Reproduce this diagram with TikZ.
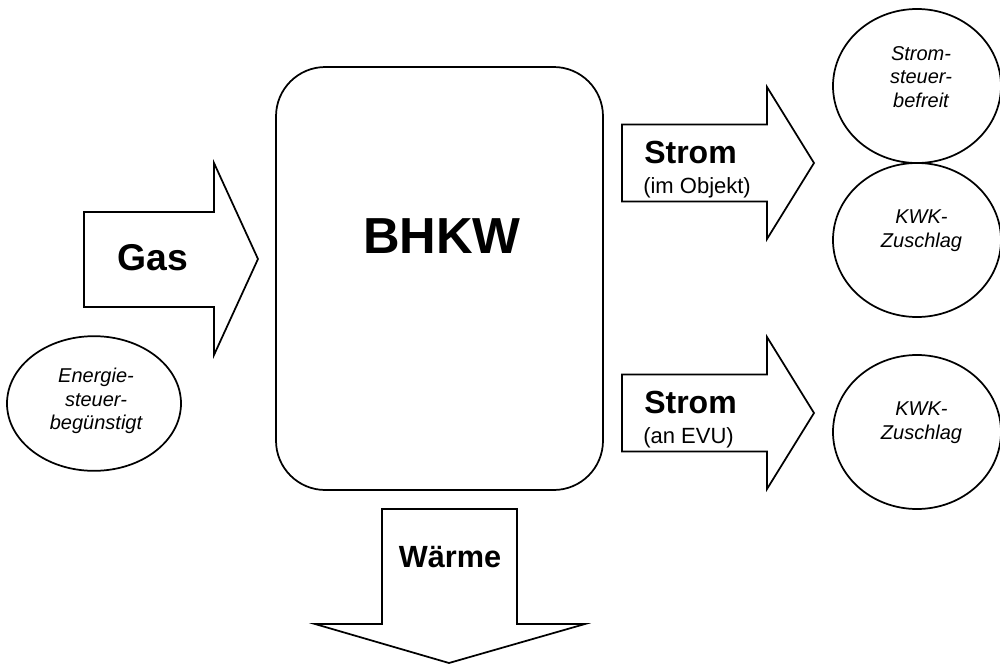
\documentclass[tikz,border=0pt]{standalone}
\usepackage{fontspec}
\setmainfont{Liberation Sans}
\usetikzlibrary{shapes.geometric}

\tikzset{
  outline/.style={draw, line width=1.3pt, line join=miter},
  oval/.style={outline, ellipse, inner sep=0pt},
  heading/.style={font=\bfseries\fontsize{#1}{#1}\selectfont, anchor=base, inner sep=0pt},
  subline/.style={font=\fontsize{16.5}{18}\selectfont, anchor=base west, inner sep=0pt},
  note/.style={font=\itshape\fontsize{15}{17.6}\selectfont, align=center, inner sep=0pt}
}

\begin{document}
\begin{tikzpicture}[x=0.75pt, y=-0.75pt]
    \useasboundingbox (0,0) rectangle (1000,664);
    % BHKW block
    \node[outline, rounded corners=37pt, minimum width=245.25pt,
          minimum height=317.25pt, inner sep=0pt] (bhkw) at (439.5,278.5) {};
    \node[heading=38] (bhkwlbl) at (442,253) {BHKW};
    % Gas input
    \draw[outline] (84,212) -- (214,212) -- (214,163) -- (258,259)
      -- (214,355) -- (214,307) -- (84,307) -- cycle;
    \node[heading=28] (gas) at (152.5,270) {Gas};
    \node[oval, minimum width=130.5pt, minimum height=101pt] (energie) at (94,403.5) {};
    \node[note] (energielbl) at (96,401) {Energie-\\steuer-\\begünstigt};
    % Strom outputs
    \foreach \y/\name/\sub in {163/objekt/{(im Objekt)}, 413/evu/{(an EVU)}} {
      \draw[outline] (622,\y-38.5) -- (767,\y-38.5) -- (767,\y-76) -- (814,\y)
        -- (767,\y+76) -- (767,\y+38.5) -- (622,\y+38.5) -- cycle;
      \node[heading=24, anchor=base west] (strom\name) at (644,\y+0.5) {Strom};
      \node[subline] (sub\name) at (643,\y+30) {\sub};
    }
    % Ovals on the right
    \node[oval, minimum width=126pt, minimum height=115.5pt] (befreit) at (917,86) {};
    \node[note] (befreitlbl) at (921,77) {Strom-\\steuer-\\befreit};
    \node[oval, minimum width=126pt, minimum height=115.5pt] (kwkobjekt) at (917,240) {};
    \node[note] (kwkobjektlbl) at (921.5,230.5) {KWK-\\Zuschlag};
    \node[oval, minimum width=126pt, minimum height=115.5pt] (kwkevu) at (917,432) {};
    \node[note] (kwkevulbl) at (921.5,422.5) {KWK-\\Zuschlag};
    % Waerme output
    \draw[outline] (382,509) -- (517,509) -- (517,624) -- (585,624)
      -- (449,663) -- (315,624) -- (382,624) -- cycle;
    \node[heading=23] (waerme) at (450,567) {Wärme};
\end{tikzpicture}
\end{document}
